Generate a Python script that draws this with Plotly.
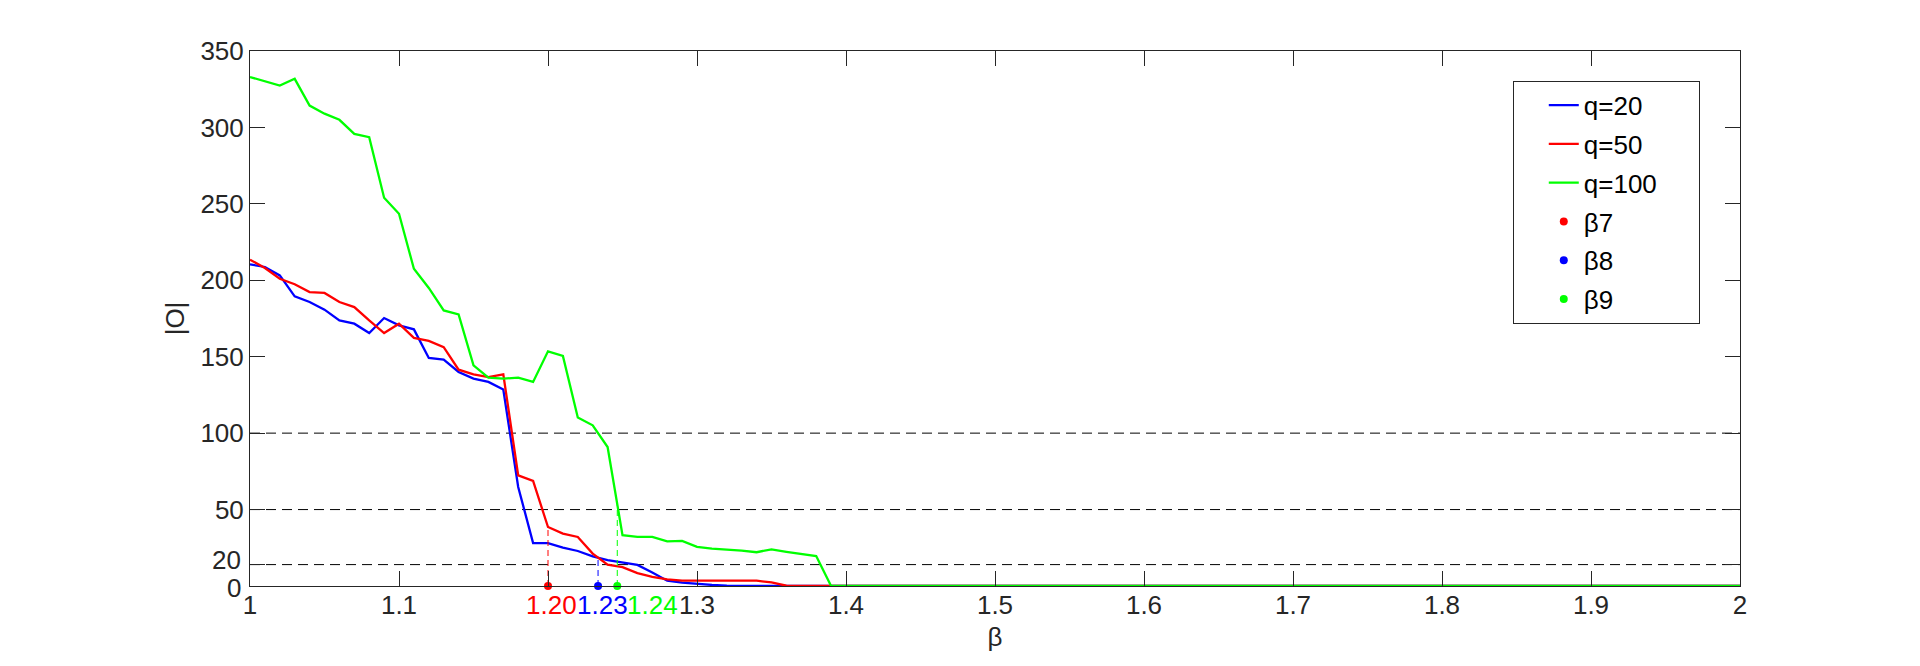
import numpy as np
import plotly.graph_objects as go

# ---- data ----
beta = [1.00, 1.01, 1.02, 1.03, 1.04, 1.05, 1.06, 1.07, 1.08, 1.09,
        1.10, 1.11, 1.12, 1.13, 1.14, 1.15, 1.16, 1.17, 1.18, 1.19,
        1.20, 1.21, 1.22, 1.23, 1.24, 1.25, 1.26, 1.27, 1.28, 1.29,
        1.30, 1.31, 1.32, 1.33, 1.34, 1.35, 1.36, 1.37, 1.38, 1.39,
        1.40, 2.00]

q20 = [210.4, 208.7, 203.2, 189.5, 185.8, 180.8, 173.8, 171.6, 165.5, 175.3,
       170.5, 167.9, 149.2, 148.1, 140.0, 135.7, 133.5, 128.5, 64.8, 28.1,
       28.1, 25.1, 22.9, 19.4, 17.0, 15.5, 13.8, 8.9, 3.5, 2.2,
       1.3, 0.7, 0.2, 0.0, 0.0, 0.0, 0.0, 0.0, 0.0, 0.0,
       0.0, 0.0]

q50 = [213.5, 208.0, 201.0, 197.4, 192.3, 191.7, 185.8, 182.5, 173.8, 165.5,
       171.6, 162.3, 160.3, 156.3, 141.5, 138.5, 136.7, 138.5, 72.4, 68.7,
       38.6, 34.3, 32.1, 21.2, 14.0, 12.3, 8.4, 6.0, 4.3, 3.5,
       3.5, 3.5, 3.5, 3.5, 3.5, 2.3, 0.2, 0.0, 0.0, 0.0,
       0.0, 0.0]

q100 = [333.0, 330.0, 327.4, 331.8, 314.3, 309.0, 305.0, 295.8, 293.6, 254.0,
        243.5, 207.5, 195.0, 180.3, 177.7, 144.4, 136.3, 135.7, 136.3, 133.5,
        153.5, 150.5, 110.2, 105.1, 90.9, 33.3, 32.2, 32.2, 29.2, 29.5,
        25.6, 24.5, 23.9, 23.1, 22.1, 24.0, 22.4, 20.9, 19.6, 0.0,
        0.0, 0.0]

series_names = ["q=20", "q=50", "q=100"]
series_colors = ["#0000FF", "#FF0000", "#00FF00"]

# threshold markers (beta values) and their labels
marker_names = ["β7", "β8", "β9"]
marker_beta = [1.200, 1.2336, 1.2465]
marker_labels = ["1.20", "1.23", "1.24"]
marker_label_x = [1.2025, 1.2365, 1.2700]
marker_colors = ["#FF0000", "#0000FF", "#00FF00"]
marker_series = [1, 0, 2]  # index of the curve each marker belongs to

ref_levels = [100, 50, 14]

yticks = [0, 14, 50, 100, 150, 200, 250, 300, 350]
ytick_text = ["0", "20", "50", "100", "150", "200", "250", "300", "350"]
xticks = [1.0, 1.1, 1.2, 1.3, 1.4, 1.5, 1.6, 1.7, 1.8, 1.9, 2.0]
xtick_text = ["1", "1.1", "", "1.3", "1.4", "1.5", "1.6", "1.7", "1.8", "1.9", "2"]

FONT = "Liberation Sans, Arial, sans-serif"
AX = "#262626"
FS = 26
NBSP = "\u00a0"

fig = go.Figure()

all_series = [q20, q50, q100]
for i, (name, vals, col) in enumerate(zip(series_names, all_series, series_colors)):
    fig.add_trace(go.Scatter(x=beta, y=vals, mode="lines",
                             name=name + NBSP * 5,
                             line=dict(color=col, width=2.3),
                             legendgroup=f"g{i}"))

# vertical dashed lines from the axis to the curve
for b, col, si in zip(marker_beta, marker_colors, marker_series):
    top = float(np.interp(b, beta, all_series[si]))
    fig.add_trace(go.Scatter(x=[b, b], y=[0, top], mode="lines",
                             line=dict(color=col, width=1, dash="6px,4px"),
                             showlegend=False, hoverinfo="skip"))

for i, (name, b, col) in enumerate(zip(marker_names, marker_beta, marker_colors)):
    fig.add_trace(go.Scatter(x=[b], y=[0], mode="markers", name=name,
                             marker=dict(color=col, size=8),
                             cliponaxis=False, legendgroup=f"m{i}"))

for lv in ref_levels:
    fig.add_hline(y=lv, line=dict(color="black", width=1, dash="10px,6px"), layer="below")

for lab, lx, col in zip(marker_labels, marker_label_x, marker_colors):
    fig.add_annotation(x=lx, y=0, xref="x", yref="paper", text=lab,
                       showarrow=False, yanchor="middle", yshift=-19,
                       font=dict(family=FONT, size=FS, color=col))

# the two lowest y labels sit slightly apart from their ticks (as in the reference)
low_ticks = yticks[:2]
low_text = ytick_text[:2]
low_shift = [-2, 5]
for tv, tt, sh in zip(low_ticks, low_text, low_shift):
    fig.add_annotation(x=0, y=tv, xref="paper", yref="y", text=tt,
                       showarrow=False, xanchor="right", yanchor="middle",
                       xshift=-7, yshift=sh,
                       font=dict(family=FONT, size=FS, color=AX))
ytick_text_axis = [""] * 2 + ytick_text[2:]

# page body has an 8px default margin: size the figure to fit the 1920x666 window
fig.update_layout(
    width=1904, height=650,
    margin=dict(l=242, r=172, t=43, b=72, autoexpand=False),
    paper_bgcolor="white", plot_bgcolor="white",
    font=dict(family=FONT, size=FS, color=AX),
    showlegend=True,
    legend=dict(x=0.8475, y=0.9445, xanchor="left", yanchor="top",
                bordercolor=AX, borderwidth=1, bgcolor="white",
                font=dict(family=FONT, size=FS, color="black"),
                tracegroupgap=2, indentation=30),
)
fig.update_xaxes(range=[1, 2], tickvals=xticks, ticktext=xtick_text,
                 showline=True, linecolor=AX, linewidth=1, mirror="ticks",
                 ticks="inside", ticklen=15, tickcolor=AX,
                 showgrid=False, zeroline=False, automargin=False,
                 ticklabelstandoff=-4,
                 title=dict(text="β", standoff=8, font=dict(size=FS)))
fig.update_yaxes(range=[0, 350], tickvals=yticks, ticktext=ytick_text_axis,
                 showline=True, linecolor=AX, linewidth=1, mirror="ticks",
                 ticks="inside", ticklen=15, tickcolor=AX,
                 showgrid=False, zeroline=False, automargin=False,
                 title=dict(text="|O|", standoff=8, font=dict(size=FS)))

fig.write_html("out.html")
